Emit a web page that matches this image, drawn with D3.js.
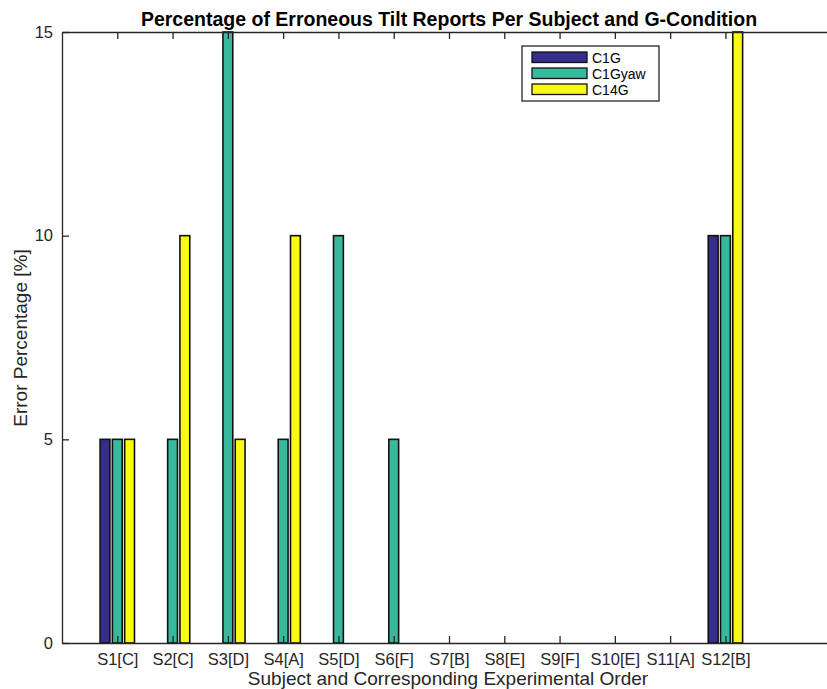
<!DOCTYPE html>
<html>
<head>
<meta charset="utf-8">
<script src="https://cdn.jsdelivr.net/npm/d3@7"></script>
<style>
  html, body { margin: 0; padding: 0; background: #fff; }
  svg { display: block; font-family: "Liberation Sans", Arial, Helvetica, sans-serif; }
</style>
</head>
<body>
<svg id="chart" width="827" height="689"></svg>
<script>
// Subjects with their experimental order
const subjects = ["S1[C]", "S2[C]", "S3[D]", "S4[A]", "S5[D]", "S6[F]",
                  "S7[B]", "S8[E]", "S9[F]", "S10[E]", "S11[A]", "S12[B]"];
const seriesNames = ["C1G", "C1Gyaw", "C14G"];
// Error percentage per subject, one array per G-condition
const c1g    = [5, 0, 0, 0, 0, 0, 0, 0, 0, 0, 0, 10];
const c1gyaw = [5, 5, 15, 5, 10, 5, 0, 0, 0, 0, 0, 10];
const c14g   = [5, 10, 5, 10, 0, 0, 0, 0, 0, 0, 0, 15];
const yTicks = [0, 5, 10, 15];
const colors = ["#352f8a", "#38b99e", "#f8fa0f"];

const seriesValues = [c1g, c1gyaw, c14g];

const svg = d3.select("#chart");
const margin = { left: 62, top: 32, right: 836, bottom: 643 };
const ink = "#262626";

const x = d3.scaleLinear().domain([0, 14]).range([margin.left, margin.right]);
const y = d3.scaleLinear().domain([0, 15]).range([margin.bottom, margin.top]);

// Offsets of the three bars inside a subject group (in x units)
const inner = d3.scalePoint().domain(seriesNames).range([-0.222, 0.222]);
const barW = 0.178;

const rows = [];
subjects.forEach((s, i) => {
  seriesNames.forEach((n, k) => {
    rows.push({ idx: i + 1, series: n, k, value: seriesValues[k][i] });
  });
});

const plot = svg.append("g");
plot.selectAll("rect.bar")
  .data(rows)
  .join("rect")
  .attr("class", "bar")
  .attr("x", d => x(d.idx + inner(d.series) - barW / 2))
  .attr("width", d => x(barW) - x(0))
  .attr("y", d => y(d.value))
  .attr("height", d => y(0) - y(d.value))
  .attr("fill", d => colors[d.k])
  .attr("stroke", "#111")
  .attr("stroke-width", 1.6);

// Axes: ticks point inward, box on top/left
const tickLen = 7;
const xTickVals = d3.range(1, 13);

const axBottom = svg.append("g")
  .attr("transform", `translate(0,${margin.bottom})`)
  .call(d3.axisBottom(x).tickValues(xTickVals)
        .tickFormat((d, i) => subjects[i])
        .tickSizeInner(-tickLen).tickSizeOuter(0).tickPadding(10));
const axTop = svg.append("g")
  .attr("transform", `translate(0,${margin.top})`)
  .call(d3.axisTop(x).tickValues(xTickVals).tickFormat("")
        .tickSizeInner(-tickLen).tickSizeOuter(0));
const axLeft = svg.append("g")
  .attr("transform", `translate(${margin.left},0)`)
  .call(d3.axisLeft(y).tickValues(yTicks).tickFormat(d3.format("d"))
        .tickSizeInner(-tickLen).tickSizeOuter(0).tickPadding(9));

[axBottom, axTop, axLeft].forEach(g => {
  g.select(".domain").attr("stroke", ink).attr("stroke-width", 1.3);
  g.selectAll(".tick line").attr("stroke", ink).attr("stroke-width", 1.3);
  g.selectAll(".tick text").attr("fill", ink).style("font-size", "16.5px");
});

// Title and axis labels
svg.append("text")
  .attr("x", (margin.left + margin.right) / 2)
  .attr("y", 26)
  .attr("text-anchor", "middle")
  .attr("font-weight", "bold")
  .attr("font-size", "19.5px")
  .attr("fill", "#000")
  .text("Percentage of Erroneous Tilt Reports Per Subject and G-Condition");

svg.append("text")
  .attr("x", 448)
  .attr("y", 685)
  .attr("text-anchor", "middle")
  .attr("font-size", "19px")
  .attr("fill", ink)
  .text("Subject and Corresponding Experimental Order");

svg.append("text")
  .attr("transform", `translate(27,338) rotate(-90)`)
  .attr("text-anchor", "middle")
  .attr("font-size", "19px")
  .attr("fill", ink)
  .text("Error Percentage [%]");

// Legend
const legend = svg.append("g").attr("transform", "translate(522,46)");
legend.append("rect")
  .attr("width", 137).attr("height", 55)
  .attr("fill", "#fff").attr("stroke", ink).attr("stroke-width", 1.3);
seriesNames.forEach((n, k) => {
  const row = legend.append("g").attr("transform", `translate(10,${6 + k * 16})`);
  row.append("rect")
    .attr("width", 55).attr("height", 10.5)
    .attr("fill", colors[k]).attr("stroke", "#111").attr("stroke-width", 1.3);
  row.append("text")
    .attr("x", 60).attr("y", 11)
    .attr("font-size", "14px")
    .attr("fill", "#000")
    .text(n);
});
</script>
</body>
</html>
